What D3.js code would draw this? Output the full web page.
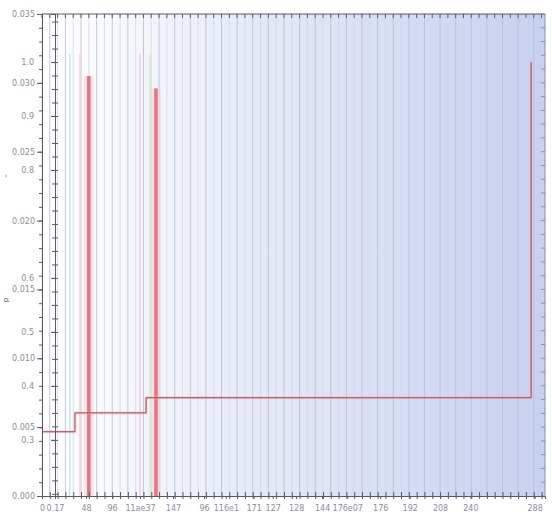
<!DOCTYPE html>
<html>
<head>
<meta charset="utf-8">
<script src="https://cdn.jsdelivr.net/npm/d3@7"></script>
<style>
  body { margin: 0; background: #fff; }
  svg text { font-family: "DejaVu Sans", sans-serif; }
</style>
</head>
<body>
<svg width="552" height="519"></svg>
<script>
// data
const stepX = [0, 19, 60, 282];
const stepY = [0.315, 0.35, 0.378, 1.0];          // right (inner) axis
const spikeX = [27, 65.7];
const spikeY = [0.0305, 0.0296];                    // left (outer) axis
const markX = [16, 22, 56.5, 62.3];
const markColor = ["#cdeeee", "#f6d4e0", "#f6d4e0", "#d8efd8"];
const leftTicks = [0, 0.005, 0.01, 0.015, 0.02, 0.025, 0.03, 0.035];
const rightTicks = [0.3, 0.4, 0.5, 0.6, 0.8, 0.9, 1.0];
const xTickPos = [0, 7.5, 25.4, 40.4, 56.5, 75.5, 93.4, 106, 122, 133, 146.5, 161.5, 176, 195, 212, 229.5, 247, 284];
const xTickLabels = ["0", "0.17", "48", "96", "11ae37", "147", "96", "116e1", "171", "127", "128", "144", "176e07", "176", "192", "208", "240", "288"];

(function () {
let svg = d3.select("svg");
let pl = 42, pr = 545, pt = 14, pb = 496;

let x = d3.scaleLinear().domain([0, 290]).range([pl, pr]);
let yL = d3.scaleLinear().domain([0, 0.035]).range([pb, pt]);
let yR = d3.scaleLinear().domain([0.196, 1.089]).range([pb, pt]);

// background gradient
let defs = svg.append("defs");
let grad = defs.append("linearGradient").attr("id", "bg");
grad.append("stop").attr("offset", "0%").attr("stop-color", "#ffffff");
grad.append("stop").attr("offset", "40%").attr("stop-color", "#e6eaf7");
grad.append("stop").attr("offset", "100%").attr("stop-color", "#c8d0f0");

svg.append("rect")
  .attr("x", 55).attr("y", pt)
  .attr("width", pr - 55).attr("height", pb - pt)
  .attr("fill", "url(#bg)");

// vertical grid
let grid = d3.range(0, 290, 4.5);
svg.append("g").selectAll("line")
  .data(grid)
  .enter().append("line")
  .attr("x1", d => x(d)).attr("x2", d => x(d))
  .attr("y1", pt).attr("y2", pb)
  .attr("stroke", (d, i) => i % 2 ? "#b6bdd6" : "#d3d8e8")
  .attr("stroke-width", 1)
  .attr("opacity", 0.8);

// faint coloured markers
svg.append("g").selectAll("line")
  .data(markX)
  .enter().append("line")
  .attr("x1", d => x(d)).attr("x2", d => x(d))
  .attr("y1", pt + 40).attr("y2", pb)
  .attr("stroke", (d, i) => markColor[i])
  .attr("stroke-width", 2);

// spikes
let spikes = svg.append("g");
spikes.selectAll(".halo")
  .data(spikeX)
  .enter().append("rect")
  .attr("x", d => x(d) - 5).attr("width", 10)
  .attr("y", (d, i) => yL(spikeY[i]))
  .attr("height", (d, i) => pb - yL(spikeY[i]))
  .attr("fill", "#f8d3d9").attr("opacity", 0.55);
spikes.selectAll(".bar")
  .data(spikeX)
  .enter().append("rect")
  .attr("x", d => x(d) - 1.8).attr("width", 3.6)
  .attr("y", (d, i) => yL(spikeY[i]))
  .attr("height", (d, i) => pb - yL(spikeY[i]))
  .attr("fill", "#e35a66").attr("opacity", 0.8);

// step line
let pts = stepX.map((d, i) => [d, stepY[i]]);
let stepLine = d3.line().x(d => x(d[0])).y(d => yR(d[1])).curve(d3.curveStepAfter);
svg.append("path")
  .datum(pts)
  .attr("fill", "none")
  .attr("stroke", "#f4b8c2")
  .attr("stroke-width", 3)
  .attr("opacity", 0.45)
  .attr("d", stepLine);
svg.append("path")
  .datum(pts)
  .attr("fill", "none")
  .attr("stroke", "#ad3a42")
  .attr("stroke-width", 1)
  .attr("d", stepLine);

// frame
let ink = "#555a66";
svg.append("line").attr("x1", pl).attr("x2", pr).attr("y1", pt).attr("y2", pt).attr("stroke", ink);
svg.append("line").attr("x1", pr).attr("x2", pr).attr("y1", pt).attr("y2", pb).attr("stroke", "#8890aa");

// top and right minor ticks
svg.append("g").selectAll("line")
  .data(d3.range(0, 290, 4.5))
  .enter().append("line")
  .attr("x1", d => x(d)).attr("x2", d => x(d))
  .attr("y1", pt).attr("y2", pt + 4)
  .attr("stroke", ink);
svg.append("g").selectAll("line")
  .data(d3.range(0, 0.0351, 0.001))
  .enter().append("line")
  .attr("x1", pr - 4).attr("x2", pr)
  .attr("y1", d => yL(d)).attr("y2", d => yL(d))
  .attr("stroke", "#8890aa");

// outer left axis
svg.append("g")
  .attr("transform", `translate(${pl},0)`)
  .call(d3.axisLeft(yL).tickValues(leftTicks).tickFormat(d3.format(".3f")).tickSize(5).tickPadding(2));
svg.append("g")
  .attr("transform", `translate(${pl},0)`)
  .call(d3.axisLeft(yL).tickValues(d3.range(0, 0.0351, 0.001)).tickFormat("").tickSize(3));

// inner axis
svg.append("g")
  .attr("transform", `translate(55,0)`)
  .call(d3.axisLeft(yR).tickValues(rightTicks).tickFormat(d3.format(".1f")).tickSize(4).tickPadding(17));
svg.append("g")
  .attr("transform", `translate(55,0)`)
  .call(d3.axisLeft(yR).tickValues(d3.range(0.2, 1.09, 0.025)).tickFormat("").tickSizeInner(-3).tickSizeOuter(0));
svg.append("g")
  .attr("transform", `translate(55,0)`)
  .call(d3.axisLeft(yR).tickValues(d3.range(0.2, 1.09, 0.025)).tickFormat("").tickSize(3));

// bottom axis
svg.append("g")
  .attr("transform", `translate(0,${pb})`)
  .call(d3.axisBottom(x).tickValues(xTickPos).tickFormat((d, i) => xTickLabels[i]).tickSize(3).tickPadding(6));
svg.append("g")
  .attr("transform", `translate(0,${pb})`)
  .call(d3.axisBottom(x).tickValues(d3.range(0, 290, 4.5)).tickFormat("").tickSizeInner(-4).tickSizeOuter(0));
svg.append("g")
  .attr("transform", `translate(0,${pb})`)
  .call(d3.axisBottom(x).tickValues(d3.range(0, 290, 4.5)).tickFormat("").tickSize(3));

svg.selectAll(".domain").attr("stroke", ink);
svg.selectAll(".tick line").attr("stroke", ink);
svg.selectAll(".tick text").attr("fill", "#8a8e99").style("font-size", "8px");

// small axis titles at far left
svg.append("text").attr("transform", "translate(8,176) rotate(-90)")
  .attr("text-anchor", "middle").style("font-size", "7px").attr("fill", "#333").text("–");
svg.append("text").attr("transform", "translate(8,300) rotate(-90)")
  .attr("text-anchor", "middle").style("font-size", "7px").attr("fill", "#333").text("p");
})();
</script>
</body>
</html>
